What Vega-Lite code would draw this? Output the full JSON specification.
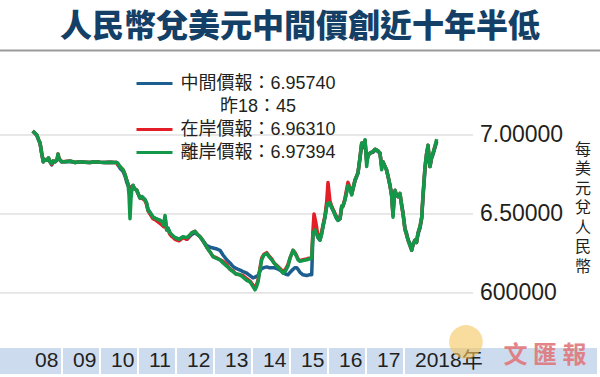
{
  "$schema": "https://vega.github.io/schema/vega-lite/v6.json",
  "width": 600,
  "height": 327,
  "autosize": "none",
  "padding": {"top": 50, "left": 0, "right": 0, "bottom": 0},
  "background": "white",
  "title": {
    "text": "人民幣兌美元中間價創近十年半低",
    "font": "Noto Sans CJK TC",
    "fontSize": 32,
    "fontWeight": 900,
    "color": "#143f66",
    "anchor": "middle",
    "offset": 5
  },
  "config": {"view": {"stroke": null}},
  "layer": [
    {
      "data": {"values": [{}]},
      "mark": {"type": "rect", "color": "#cddbee"},
      "encoding": {
        "x": {"datum": 2007.368, "type": "quantitative", "scale": {"domain": [2007.368, 2023.158], "nice": false, "zero": false}, "axis": null},
        "x2": {"datum": 2023.08},
        "y": {"datum": 5.652, "type": "quantitative", "scale": {"domain": [5.468, 7.538], "nice": false, "zero": false}, "axis": null},
        "y2": {"datum": 5.487}
      }
    },
    {
      "data": {"values": [{}]},
      "mark": {"type": "rule", "color": "#9a9a9a", "strokeWidth": 2},
      "encoding": {
        "y": {"datum": 7.535, "type": "quantitative", "scale": {"domain": [5.468, 7.538], "nice": false, "zero": false}, "axis": null}
      }
    },
    {
      "data": {"name": "years", "values": [
        {"year": 2008, "label": "08"}, {"year": 2009, "label": "09"}, {"year": 2010, "label": "10"},
        {"year": 2011, "label": "11"}, {"year": 2012, "label": "12"}, {"year": 2013, "label": "13"},
        {"year": 2014, "label": "14"}, {"year": 2015, "label": "15"}, {"year": 2016, "label": "16"},
        {"year": 2017, "label": "17"}, {"year": 2018, "label": "2018年"}
      ]},
      "layer": [
        {
          "transform": [{"filter": "datum.year >= 2009"}],
          "mark": {"type": "rule", "color": "white", "strokeWidth": 2},
          "encoding": {
            "x": {"field": "year", "type": "quantitative", "scale": {"domain": [2007.368, 2023.158], "nice": false, "zero": false}, "axis": null},
            "y": {"datum": 5.652, "type": "quantitative", "scale": {"domain": [5.468, 7.538], "nice": false, "zero": false}, "axis": null},
            "y2": {"datum": 5.487}
          }
        },
        {
          "mark": {"type": "text", "align": "left", "baseline": "middle", "dx": 11, "font": "Liberation Sans, Noto Sans CJK TC", "fontSize": 21, "color": "#231f20"},
          "encoding": {
            "x": {"field": "year", "type": "quantitative", "scale": {"domain": [2007.368, 2023.158], "nice": false, "zero": false}, "axis": null},
            "y": {"datum": 5.57, "type": "quantitative", "scale": {"domain": [5.468, 7.538], "nice": false, "zero": false}, "axis": null},
            "text": {"field": "label"}
          }
        }
      ]
    },
    {
      "data": {"values": [{"v": 6.0, "label": "600000"}, {"v": 6.5, "label": "6.50000"}, {"v": 7.0, "label": "7.00000"}]},
      "layer": [
        {
          "mark": {"type": "rule", "color": "#d0d0d0", "strokeWidth": 1},
          "encoding": {
            "x": {"datum": 2007.368, "type": "quantitative", "scale": {"domain": [2007.368, 2023.158], "nice": false, "zero": false}, "axis": null},
            "x2": {"datum": 2019.816},
            "y": {"field": "v", "type": "quantitative", "scale": {"domain": [5.468, 7.538], "nice": false, "zero": false}, "axis": null}
          }
        },
        {
          "mark": {"type": "text", "align": "left", "baseline": "middle", "dx": 7, "font": "Liberation Sans", "fontSize": 23, "color": "#231f20"},
          "encoding": {
            "x": {"datum": 2019.816, "type": "quantitative", "scale": {"domain": [2007.368, 2023.158], "nice": false, "zero": false}, "axis": null},
            "y": {"field": "v", "type": "quantitative", "scale": {"domain": [5.468, 7.538], "nice": false, "zero": false}, "axis": null},
            "text": {"field": "label"}
          }
        }
      ]
    },
    {
      "data": {"values": [{"title": "每\n美\n元\n兌\n人\n民\n幣"}]},
      "mark": {"type": "text", "align": "center", "baseline": "top", "lineBreak": "\n", "lineHeight": 19.5, "font": "Noto Sans CJK TC", "fontSize": 16, "color": "#231f20"},
      "encoding": {
        "x": {"datum": 2022.71, "type": "quantitative", "scale": {"domain": [2007.368, 2023.158], "nice": false, "zero": false}, "axis": null},
        "y": {"datum": 6.958, "type": "quantitative", "scale": {"domain": [5.468, 7.538], "nice": false, "zero": false}, "axis": null},
        "text": {"field": "title"}
      }
    },
    {
      "data": {"values": [{}]},
      "mark": {"type": "point", "shape": "circle", "filled": true, "size": 1130, "color": "#f5c75e", "opacity": 0.6},
      "encoding": {
        "x": {"datum": 2019.63, "type": "quantitative", "scale": {"domain": [2007.368, 2023.158], "nice": false, "zero": false}, "axis": null},
        "y": {"datum": 5.69, "type": "quantitative", "scale": {"domain": [5.468, 7.538], "nice": false, "zero": false}, "axis": null}
      }
    },
    {
      "data": {"values": [{"name": "文 匯 報"}]},
      "mark": {"type": "text", "font": "Noto Sans CJK TC", "fontWeight": "bold", "fontSize": 24, "color": "#e0787c", "opacity": 0.9, "baseline": "middle", "align": "center"},
      "encoding": {
        "x": {"datum": 2021.71, "type": "quantitative", "scale": {"domain": [2007.368, 2023.158], "nice": false, "zero": false}, "axis": null},
        "y": {"datum": 5.6, "type": "quantitative", "scale": {"domain": [5.468, 7.538], "nice": false, "zero": false}, "axis": null},
        "text": {"field": "name"}
      }
    },
    {
      "data": {"values": [
        {"t": 2008.229, "中間價": 7.025, "在岸價": 7.025, "離岸價": 7.025},
        {"t": 2008.289, "中間價": 7.01, "在岸價": 7.01, "離岸價": 7.012},
        {"t": 2008.334, "中間價": 7.0, "在岸價": 7.0, "離岸價": 7.0},
        {"t": 2008.382, "中間價": 6.97, "在岸價": 6.97, "離岸價": 6.97},
        {"t": 2008.421, "中間價": 6.95, "在岸價": 6.95, "離岸價": 6.95},
        {"t": 2008.461, "中間價": 6.89, "在岸價": 6.89, "離岸價": 6.89},
        {"t": 2008.508, "中間價": 6.83, "在岸價": 6.83, "離岸價": 6.83},
        {"t": 2008.553, "中間價": 6.845, "在岸價": 6.845, "離岸價": 6.845},
        {"t": 2008.597, "中間價": 6.84, "在岸價": 6.84, "離岸價": 6.84},
        {"t": 2008.645, "中間價": 6.85, "在岸價": 6.855, "離岸價": 6.855},
        {"t": 2008.684, "中間價": 6.83, "在岸價": 6.83, "離岸價": 6.83},
        {"t": 2008.729, "中間價": 6.81, "在岸價": 6.815, "離岸價": 6.82},
        {"t": 2008.763, "中間價": 6.835, "在岸價": 6.835, "離岸價": 6.835},
        {"t": 2008.816, "中間價": 6.83, "在岸價": 6.83, "離岸價": 6.83},
        {"t": 2008.868, "中間價": 6.84, "在岸價": 6.845, "離岸價": 6.845},
        {"t": 2008.895, "中間價": 6.87, "在岸價": 6.88, "離岸價": 6.88},
        {"t": 2008.921, "中間價": 6.85, "在岸價": 6.85, "離岸價": 6.85},
        {"t": 2008.992, "中間價": 6.83, "在岸價": 6.83, "離岸價": 6.83},
        {"t": 2009.079, "中間價": 6.83, "在岸價": 6.832, "離岸價": 6.83},
        {"t": 2009.211, "中間價": 6.832, "在岸價": 6.835, "離岸價": 6.835},
        {"t": 2009.342, "中間價": 6.826, "在岸價": 6.826, "離岸價": 6.826},
        {"t": 2009.474, "中間價": 6.83, "在岸價": 6.83, "離岸價": 6.83},
        {"t": 2009.605, "中間價": 6.828, "在岸價": 6.828, "離岸價": 6.828},
        {"t": 2009.737, "中間價": 6.826, "在岸價": 6.826, "離岸價": 6.826},
        {"t": 2009.868, "中間價": 6.83, "在岸價": 6.83, "離岸價": 6.83},
        {"t": 2010.0, "中間價": 6.827, "在岸價": 6.827, "離岸價": 6.827},
        {"t": 2010.132, "中間價": 6.826, "在岸價": 6.826, "離岸價": 6.826},
        {"t": 2010.263, "中間價": 6.827, "在岸價": 6.827, "離岸價": 6.827},
        {"t": 2010.368, "中間價": 6.826, "在岸價": 6.826, "離岸價": 6.826},
        {"t": 2010.439, "中間價": 6.826, "在岸價": 6.826, "離岸價": 6.826},
        {"t": 2010.474, "中間價": 6.81, "在岸價": 6.81, "離岸價": 6.82},
        {"t": 2010.526, "中間價": 6.79, "在岸價": 6.8, "離岸價": 6.8},
        {"t": 2010.566, "中間價": 6.78, "在岸價": 6.79, "離岸價": 6.79},
        {"t": 2010.605, "中間價": 6.77, "在岸價": 6.78, "離岸價": 6.78},
        {"t": 2010.658, "中間價": 6.74, "在岸價": 6.75, "離岸價": 6.75},
        {"t": 2010.703, "中間價": 6.7, "在岸價": 6.715, "離岸價": 6.715},
        {"t": 2010.737, "中間價": 6.68, "在岸價": 6.69, "離岸價": 6.69},
        {"t": 2010.763, "中間價": 6.67, "在岸價": 6.67, "離岸價": 6.62},
        {"t": 2010.789, "中間價": 6.67, "在岸價": 6.66, "離岸價": 6.47},
        {"t": 2010.816, "中間價": 6.67, "在岸價": 6.64, "離岸價": 6.6},
        {"t": 2010.842, "中間價": 6.66, "在岸價": 6.66, "離岸價": 6.66},
        {"t": 2010.868, "中間價": 6.68, "在岸價": 6.68, "離岸價": 6.68},
        {"t": 2010.908, "中間價": 6.66, "在岸價": 6.66, "離岸價": 6.66},
        {"t": 2010.966, "中間價": 6.65, "在岸價": 6.65, "離岸價": 6.65},
        {"t": 2011.0, "中間價": 6.63, "在岸價": 6.63, "離岸價": 6.63},
        {"t": 2011.053, "中間價": 6.6, "在岸價": 6.6, "離岸價": 6.6},
        {"t": 2011.105, "中間價": 6.61, "在岸價": 6.6, "離岸價": 6.61},
        {"t": 2011.184, "中間價": 6.59, "在岸價": 6.585, "離岸價": 6.59},
        {"t": 2011.224, "中間價": 6.57, "在岸價": 6.56, "離岸價": 6.57},
        {"t": 2011.263, "中間價": 6.53, "在岸價": 6.52, "離岸價": 6.525},
        {"t": 2011.316, "中間價": 6.51, "在岸價": 6.5, "離岸價": 6.51},
        {"t": 2011.395, "中間價": 6.48, "在岸價": 6.47, "離岸價": 6.48},
        {"t": 2011.474, "中間價": 6.47, "在岸價": 6.46, "離岸價": 6.47},
        {"t": 2011.526, "中間價": 6.465, "在岸價": 6.45, "離岸價": 6.465},
        {"t": 2011.579, "中間價": 6.46, "在岸價": 6.44, "離岸價": 6.46},
        {"t": 2011.632, "中間價": 6.45, "在岸價": 6.43, "離岸價": 6.45},
        {"t": 2011.671, "中間價": 6.43, "在岸價": 6.42, "離岸價": 6.43},
        {"t": 2011.711, "中間價": 6.45, "在岸價": 6.48, "離岸價": 6.49},
        {"t": 2011.755, "中間價": 6.4, "在岸價": 6.4, "離岸價": 6.4},
        {"t": 2011.789, "中間價": 6.41, "在岸價": 6.4, "離岸價": 6.41},
        {"t": 2011.842, "中間價": 6.38, "在岸價": 6.37, "離岸價": 6.38},
        {"t": 2011.887, "中間價": 6.36, "在岸價": 6.36, "離岸價": 6.37},
        {"t": 2011.974, "中間價": 6.35, "在岸價": 6.34, "離岸價": 6.35},
        {"t": 2012.079, "中間價": 6.34, "在岸價": 6.33, "離岸價": 6.34},
        {"t": 2012.184, "中間價": 6.355, "在岸價": 6.35, "離岸價": 6.356},
        {"t": 2012.289, "中間價": 6.34, "在岸價": 6.34, "離岸價": 6.35},
        {"t": 2012.413, "中間價": 6.37, "在岸價": 6.38, "離岸價": 6.38},
        {"t": 2012.5, "中間價": 6.38, "在岸價": 6.39, "離岸價": 6.39},
        {"t": 2012.566, "中間價": 6.37, "在岸價": 6.37, "離岸價": 6.37},
        {"t": 2012.632, "中間價": 6.356, "在岸價": 6.356, "離岸價": 6.356},
        {"t": 2012.711, "中間價": 6.33, "在岸價": 6.33, "離岸價": 6.33},
        {"t": 2012.808, "中間價": 6.3, "在岸價": 6.29, "離岸價": 6.29},
        {"t": 2012.895, "中間價": 6.29, "在岸價": 6.26, "離岸價": 6.26},
        {"t": 2012.974, "中間價": 6.285, "在岸價": 6.23, "離岸價": 6.23},
        {"t": 2013.053, "中間價": 6.28, "在岸價": 6.225, "離岸價": 6.22},
        {"t": 2013.158, "中間價": 6.27, "在岸價": 6.21, "離岸價": 6.21},
        {"t": 2013.237, "中間價": 6.24, "在岸價": 6.2, "離岸價": 6.19},
        {"t": 2013.334, "中間價": 6.21, "在岸價": 6.18, "離岸價": 6.17},
        {"t": 2013.421, "中間價": 6.19, "在岸價": 6.15, "離岸價": 6.15},
        {"t": 2013.5, "中間價": 6.167, "在岸價": 6.14, "離岸價": 6.135},
        {"t": 2013.579, "中間價": 6.155, "在岸價": 6.12, "離岸價": 6.12},
        {"t": 2013.684, "中間價": 6.145, "在岸價": 6.115, "離岸價": 6.115},
        {"t": 2013.763, "中間價": 6.135, "在岸價": 6.11, "離岸價": 6.1},
        {"t": 2013.861, "中間價": 6.125, "在岸價": 6.09, "離岸價": 6.08},
        {"t": 2013.947, "中間價": 6.11, "在岸價": 6.075, "離岸價": 6.07},
        {"t": 2014.026, "中間價": 6.095, "在岸價": 6.05, "離岸價": 6.04},
        {"t": 2014.079, "中間價": 6.1, "在岸價": 6.03, "離岸價": 6.02},
        {"t": 2014.118, "中間價": 6.105, "在岸價": 6.05, "離岸價": 6.04},
        {"t": 2014.158, "中間價": 6.11, "在岸價": 6.08, "離岸價": 6.07},
        {"t": 2014.211, "中間價": 6.14, "在岸價": 6.16, "離岸價": 6.15},
        {"t": 2014.255, "中間價": 6.155, "在岸價": 6.22, "離岸價": 6.21},
        {"t": 2014.316, "中間價": 6.16, "在岸價": 6.245, "離岸價": 6.24},
        {"t": 2014.387, "中間價": 6.165, "在岸價": 6.255, "離岸價": 6.25},
        {"t": 2014.447, "中間價": 6.16, "在岸價": 6.235, "離岸價": 6.23},
        {"t": 2014.518, "中間價": 6.16, "在岸價": 6.215, "離岸價": 6.21},
        {"t": 2014.579, "中間價": 6.16, "在岸價": 6.19, "離岸價": 6.19},
        {"t": 2014.65, "中間價": 6.155, "在岸價": 6.175, "離岸價": 6.17},
        {"t": 2014.737, "中間價": 6.145, "在岸價": 6.155, "離岸價": 6.15},
        {"t": 2014.816, "中間價": 6.13, "在岸價": 6.135, "離岸價": 6.125},
        {"t": 2014.882, "中間價": 6.12, "在岸價": 6.15, "離岸價": 6.14},
        {"t": 2014.947, "中間價": 6.115, "在岸價": 6.18, "離岸價": 6.17},
        {"t": 2015.0, "中間價": 6.13, "在岸價": 6.22, "離岸價": 6.22},
        {"t": 2015.079, "中間價": 6.15, "在岸價": 6.27, "離岸價": 6.27},
        {"t": 2015.132, "中間價": 6.16, "在岸價": 6.255, "離岸價": 6.25},
        {"t": 2015.176, "中間價": 6.16, "在岸價": 6.235, "離岸價": 6.23},
        {"t": 2015.211, "中間價": 6.15, "在岸價": 6.215, "離岸價": 6.21},
        {"t": 2015.263, "中間價": 6.13, "在岸價": 6.205, "離岸價": 6.2},
        {"t": 2015.342, "中間價": 6.115, "在岸價": 6.21, "離岸價": 6.205},
        {"t": 2015.439, "中間價": 6.11, "在岸價": 6.215, "離岸價": 6.21},
        {"t": 2015.5, "中間價": 6.115, "在岸價": 6.22, "離岸價": 6.215},
        {"t": 2015.571, "中間價": 6.115, "在岸價": 6.225, "離岸價": 6.22},
        {"t": 2015.605, "中間價": 6.38, "在岸價": 6.4, "離岸價": 6.38},
        {"t": 2015.632, "中間價": 6.39, "在岸價": 6.5, "離岸價": 6.39},
        {"t": 2015.658, "中間價": 6.4, "在岸價": 6.47, "離岸價": 6.4},
        {"t": 2015.684, "中間價": 6.39, "在岸價": 6.44, "離岸價": 6.38},
        {"t": 2015.711, "中間價": 6.37, "在岸價": 6.4, "離岸價": 6.37},
        {"t": 2015.737, "中間價": 6.35, "在岸價": 6.37, "離岸價": 6.35},
        {"t": 2015.789, "中間價": 6.335, "在岸價": 6.345, "離岸價": 6.335},
        {"t": 2015.829, "中間價": 6.37, "在岸價": 6.38, "離岸價": 6.37},
        {"t": 2015.868, "中間價": 6.42, "在岸價": 6.43, "離岸價": 6.42},
        {"t": 2015.921, "中間價": 6.48, "在岸價": 6.49, "離岸價": 6.48},
        {"t": 2015.966, "中間價": 6.55, "在岸價": 6.58, "離岸價": 6.55},
        {"t": 2016.0, "中間價": 6.56, "在岸價": 6.7, "離岸價": 6.57},
        {"t": 2016.026, "中間價": 6.57, "在岸價": 6.64, "離岸價": 6.57},
        {"t": 2016.053, "中間價": 6.565, "在岸價": 6.58, "離岸價": 6.57},
        {"t": 2016.097, "中間價": 6.54, "在岸價": 6.55, "離岸價": 6.54},
        {"t": 2016.132, "中間價": 6.525, "在岸價": 6.53, "離岸價": 6.525},
        {"t": 2016.229, "中間價": 6.47, "在岸價": 6.48, "離岸價": 6.47},
        {"t": 2016.263, "中間價": 6.46, "在岸價": 6.465, "離岸價": 6.46},
        {"t": 2016.316, "中間價": 6.47, "在岸價": 6.47, "離岸價": 6.47},
        {"t": 2016.361, "中間價": 6.54, "在岸價": 6.55, "離岸價": 6.55},
        {"t": 2016.395, "中間價": 6.55, "在岸價": 6.55, "離岸價": 6.55},
        {"t": 2016.447, "中間價": 6.59, "在岸價": 6.6, "離岸價": 6.59},
        {"t": 2016.526, "中間價": 6.68, "在岸價": 6.7, "離岸價": 6.68},
        {"t": 2016.579, "中間價": 6.66, "在岸價": 6.665, "離岸價": 6.66},
        {"t": 2016.624, "中間價": 6.63, "在岸價": 6.625, "離岸價": 6.62},
        {"t": 2016.658, "中間價": 6.66, "在岸價": 6.66, "離岸價": 6.66},
        {"t": 2016.711, "中間價": 6.71, "在岸價": 6.715, "離岸價": 6.715},
        {"t": 2016.789, "中間價": 6.76, "在岸價": 6.76, "離岸價": 6.76},
        {"t": 2016.842, "中間價": 6.85, "在岸價": 6.86, "離岸價": 6.86},
        {"t": 2016.887, "中間價": 6.94, "在岸價": 6.95, "離岸價": 6.95},
        {"t": 2016.921, "中間價": 6.92, "在岸價": 6.93, "離岸價": 6.93},
        {"t": 2016.974, "中間價": 6.96, "在岸價": 6.965, "離岸價": 6.97},
        {"t": 2017.018, "中間價": 6.84, "在岸價": 6.83, "離岸價": 6.8},
        {"t": 2017.053, "中間價": 6.87, "在岸價": 6.87, "離岸價": 6.87},
        {"t": 2017.105, "中間價": 6.885, "在岸價": 6.885, "離岸價": 6.885},
        {"t": 2017.184, "中間價": 6.89, "在岸價": 6.895, "離岸價": 6.895},
        {"t": 2017.237, "中間價": 6.905, "在岸價": 6.91, "離岸價": 6.91},
        {"t": 2017.282, "中間價": 6.9, "在岸價": 6.905, "離岸價": 6.905},
        {"t": 2017.316, "中間價": 6.895, "在岸價": 6.9, "離岸價": 6.9},
        {"t": 2017.368, "中間價": 6.885, "在岸價": 6.885, "離岸價": 6.885},
        {"t": 2017.413, "中間價": 6.8, "在岸價": 6.8, "離岸價": 6.78},
        {"t": 2017.447, "中間價": 6.83, "在岸價": 6.83, "離岸價": 6.83},
        {"t": 2017.5, "中間價": 6.8, "在岸價": 6.8, "離岸價": 6.8},
        {"t": 2017.539, "中間價": 6.78, "在岸價": 6.78, "離岸價": 6.78},
        {"t": 2017.579, "中間價": 6.74, "在岸價": 6.74, "離岸價": 6.74},
        {"t": 2017.632, "中間價": 6.68, "在岸價": 6.68, "離岸價": 6.68},
        {"t": 2017.676, "中間價": 6.62, "在岸價": 6.61, "離岸價": 6.61},
        {"t": 2017.711, "中間價": 6.5, "在岸價": 6.49, "離岸價": 6.48},
        {"t": 2017.737, "中間價": 6.59, "在岸價": 6.6, "離岸價": 6.6},
        {"t": 2017.763, "中間價": 6.64, "在岸價": 6.65, "離岸價": 6.65},
        {"t": 2017.803, "中間價": 6.62, "在岸價": 6.62, "離岸價": 6.62},
        {"t": 2017.842, "中間價": 6.61, "在岸價": 6.61, "離岸價": 6.61},
        {"t": 2017.895, "中間價": 6.62, "在岸價": 6.63, "離岸價": 6.63},
        {"t": 2017.939, "中間價": 6.56, "在岸價": 6.55, "離岸價": 6.55},
        {"t": 2017.974, "中間價": 6.51, "在岸價": 6.5, "離岸價": 6.5},
        {"t": 2018.026, "中間價": 6.41, "在岸價": 6.4, "離岸價": 6.4},
        {"t": 2018.066, "中間價": 6.38, "在岸價": 6.37, "離岸價": 6.37},
        {"t": 2018.105, "中間價": 6.34, "在岸價": 6.335, "離岸價": 6.335},
        {"t": 2018.158, "中間價": 6.31, "在岸價": 6.3, "離岸價": 6.3},
        {"t": 2018.203, "中間價": 6.28, "在岸價": 6.27, "離岸價": 6.27},
        {"t": 2018.237, "中間價": 6.3, "在岸價": 6.31, "離岸價": 6.31},
        {"t": 2018.289, "中間價": 6.33, "在岸價": 6.335, "離岸價": 6.335},
        {"t": 2018.329, "中間價": 6.32, "在岸價": 6.32, "離岸價": 6.32},
        {"t": 2018.368, "中間價": 6.37, "在岸價": 6.38, "離岸價": 6.38},
        {"t": 2018.421, "中間價": 6.41, "在岸價": 6.42, "離岸價": 6.42},
        {"t": 2018.466, "中間價": 6.47, "在岸價": 6.48, "離岸價": 6.48},
        {"t": 2018.5, "中間價": 6.6, "在岸價": 6.62, "離岸價": 6.62},
        {"t": 2018.553, "中間價": 6.78, "在岸價": 6.8, "離岸價": 6.8},
        {"t": 2018.592, "中間價": 6.86, "在岸價": 6.88, "離岸價": 6.88},
        {"t": 2018.632, "中間價": 6.92, "在岸價": 6.935, "離岸價": 6.935},
        {"t": 2018.684, "中間價": 6.8, "在岸價": 6.8, "離岸價": 6.8},
        {"t": 2018.724, "中間價": 6.85, "在岸價": 6.86, "離岸價": 6.86},
        {"t": 2018.763, "中間價": 6.875, "在岸價": 6.885, "離岸價": 6.885},
        {"t": 2018.816, "中間價": 6.92, "在岸價": 6.93, "離岸價": 6.93},
        {"t": 2018.861, "中間價": 6.957, "在岸價": 6.963, "離岸價": 6.974}
      ]},
      "transform": [{"fold": ["中間價", "在岸價", "離岸價"], "as": ["s", "v"]}],
      "mark": {"type": "line", "strokeWidth": 3.5, "strokeJoin": "round"},
      "encoding": {
        "x": {
          "field": "t", "type": "quantitative",
          "scale": {"domain": [2007.368, 2023.158], "nice": false, "zero": false},
          "axis": {
            "orient": "bottom", "offset": -48, "values": [2009, 2010, 2011, 2012, 2013, 2014, 2015, 2016, 2017, 2018],
            "labels": false, "grid": false, "title": null,
            "tickSize": 6, "tickColor": "#231f20", "tickWidth": 1.5,
            "domainColor": "#231f20", "domainWidth": 1.5
          }
        },
        "y": {
          "field": "v", "type": "quantitative",
          "scale": {"domain": [5.468, 7.538], "nice": false, "zero": false},
          "axis": null
        },
        "color": {
          "field": "s", "type": "nominal",
          "scale": {"domain": ["中間價", "昨日", "在岸價", "離岸價"], "range": ["#1b5e8f", "rgba(0,0,0,0)", "#e41e26", "#13984a"]},
          "legend": {
            "orient": "none", "legendX": 144, "legendY": 23, "title": null,
            "symbolType": "M-2,0H2", "symbolStrokeWidth": 3, "symbolSize": 324,
            "labelFont": "Liberation Sans, Noto Sans CJK TC", "labelFontSize": 18, "labelColor": "#231f20",
            "labelAlign": "center", "labelOffset": 93, "labelLimit": 0,
            "rowPadding": 3, "padding": 0,
            "labelExpr": "datum.label == '中間價' ? '中間價報：6.95740' : datum.label == '昨日' ? '昨18：45' : datum.label == '在岸價' ? '在岸價報：6.96310' : '離岸價報：6.97394'"
          }
        }
      }
    }
  ]
}
